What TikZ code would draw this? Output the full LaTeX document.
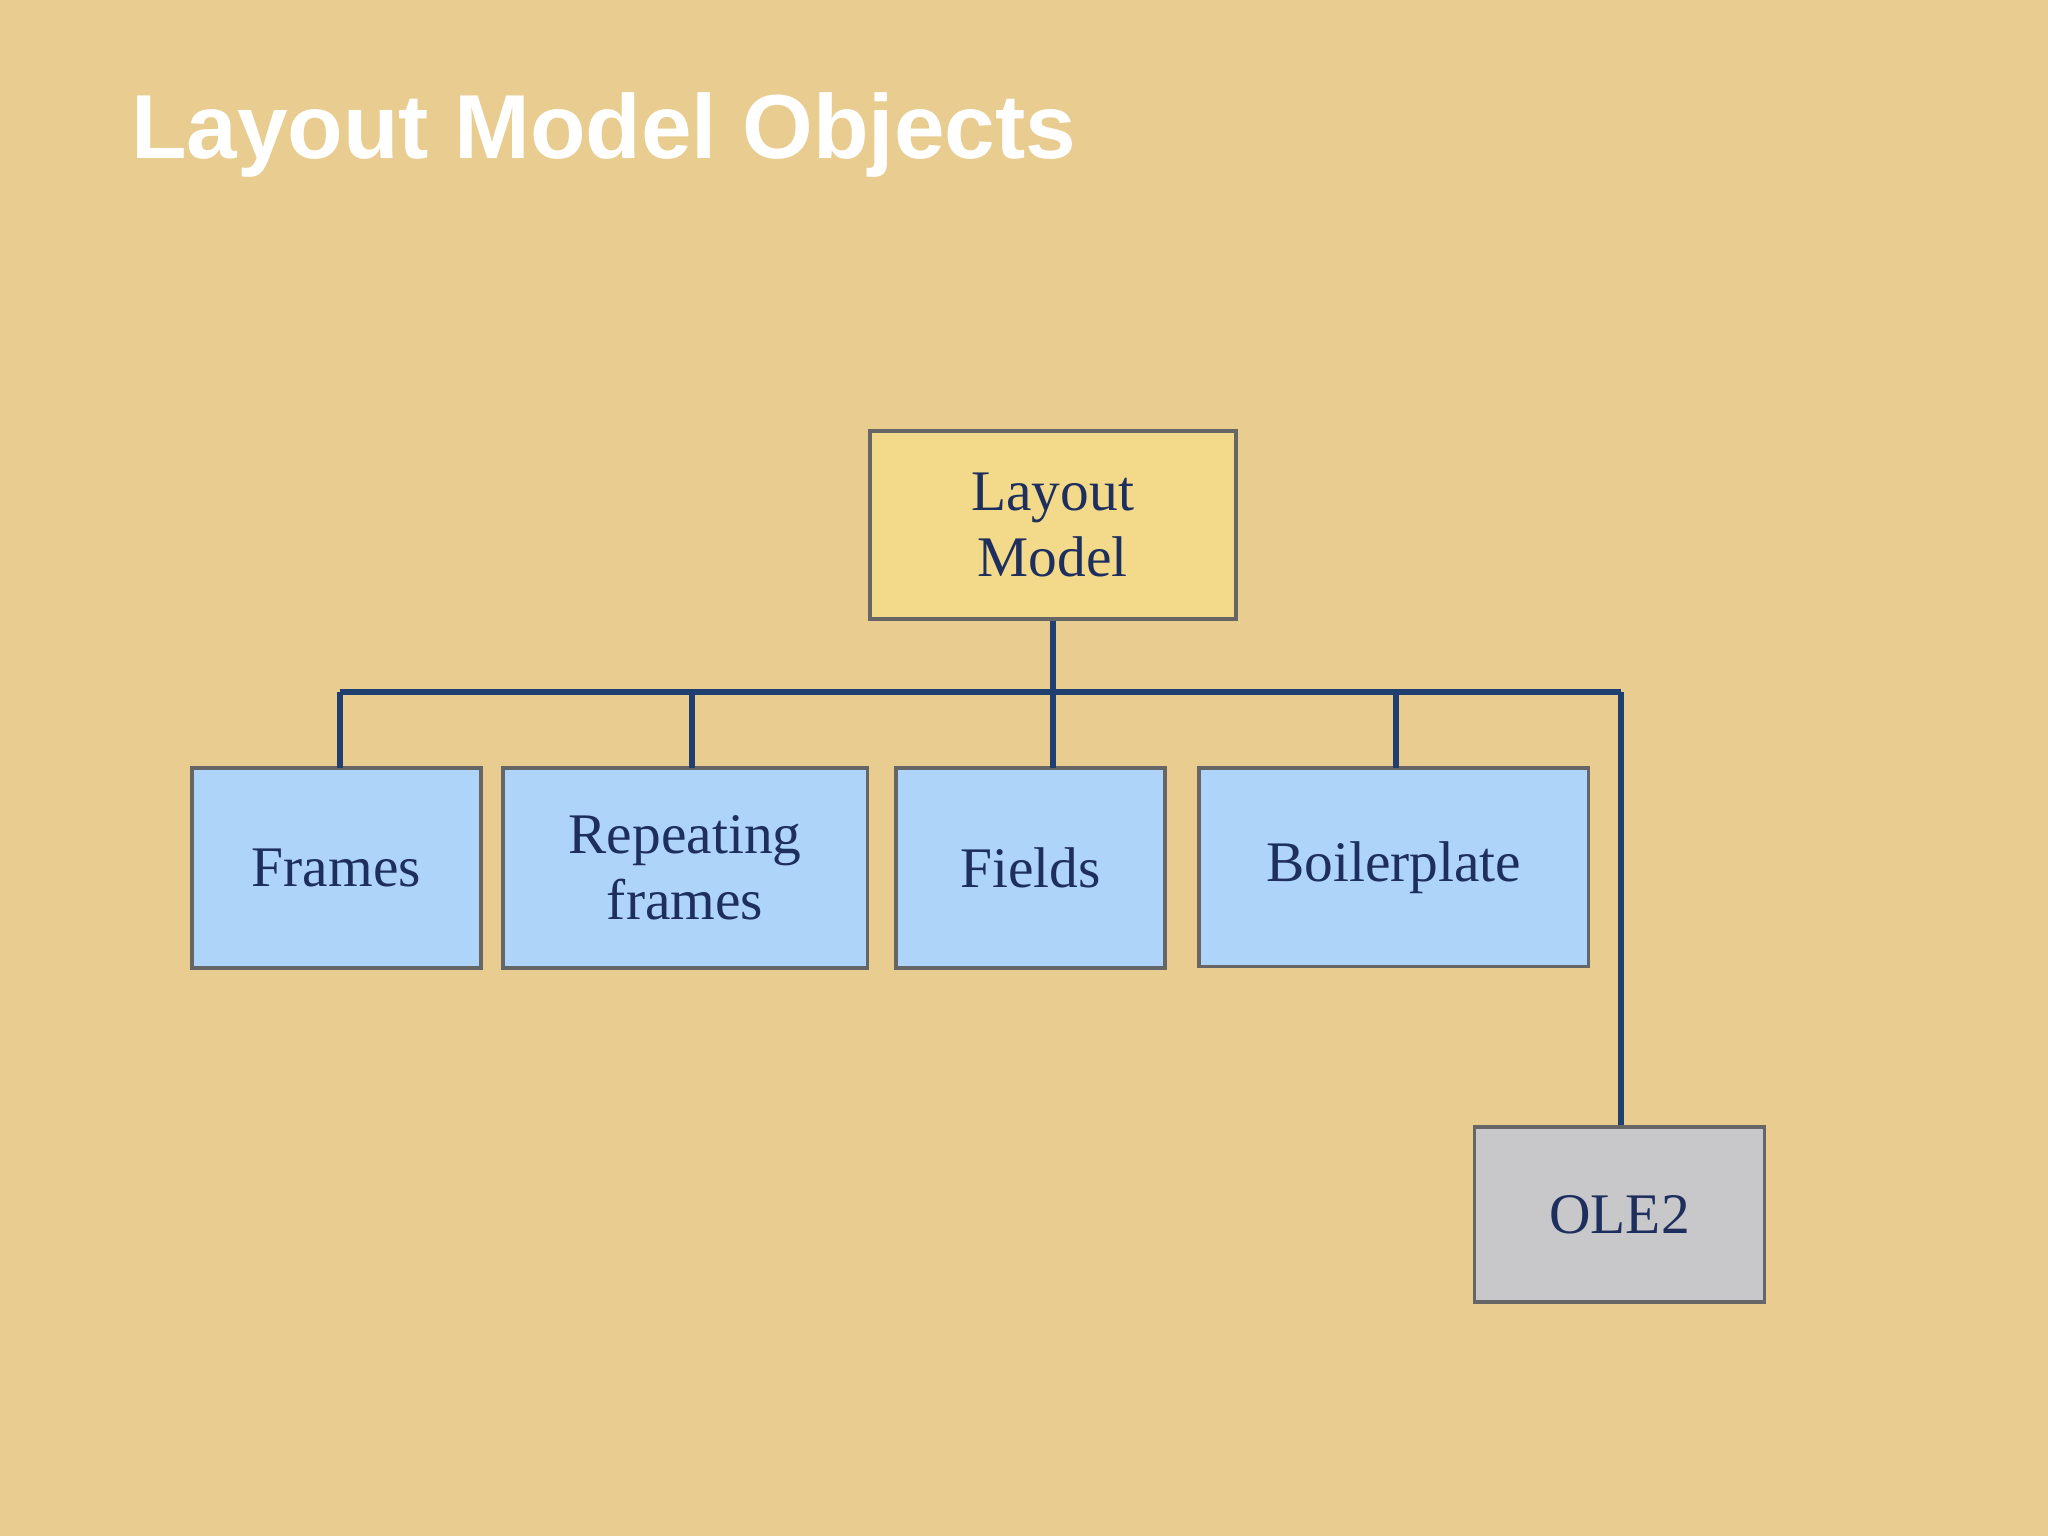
\documentclass[tikz,border=0pt]{standalone}
\usepackage{fontspec}
\setmainfont{Liberation Serif}
\newfontfamily\titlefont{Liberation Sans}
\begin{document}
\begin{tikzpicture}[x=0.01cm,y=-0.01cm,
  box/.style={draw=gray!80!black, line width=0.8pt, align=center, inner sep=0pt,
    font=\fontsize{12.5pt}{15pt}\selectfont, text=textblue},
  conn/.style={draw=lineblue, line width=1.3pt}]
\definecolor{bg}{HTML}{E9CC8F}
\definecolor{textblue}{HTML}{1E2F5E}
\definecolor{lineblue}{HTML}{1F3F70}
\definecolor{yel}{HTML}{F3DA8A}
\definecolor{lblue}{HTML}{AED4FA}
\definecolor{gry}{HTML}{C8C8CA}
\fill[bg] (0,0) rectangle (1568,1176);
\useasboundingbox (0,0) rectangle (1568,1176);
\node[anchor=west, text=white, font=\titlefont\bfseries\fontsize{19.8pt}{23pt}\selectfont] (title) at (88,103) {Layout Model Objects};
\node[box, fill=yel, minimum width=2.8cm, minimum height=1.44cm] (lm) at (806,402) {\raisebox{-0.1cm}{\shortstack{Layout\\Model}}};
\node[box, fill=lblue, minimum width=2.21cm, minimum height=1.53cm] (fr) at (257.5,664.5) {\raisebox{-0.05cm}{Frames}};
\node[box, fill=lblue, minimum width=2.79cm, minimum height=1.53cm] (rf) at (524.5,664.5) {\raisebox{-0.05cm}{\shortstack{Repeating\\frames}}};
\node[box, fill=lblue, minimum width=2.06cm, minimum height=1.53cm] (fi) at (789,664.5) {\raisebox{-0.05cm}{Fields}};
\node[box, fill=lblue, minimum width=2.98cm, minimum height=1.52cm] (bp) at (1067,664) {\raisebox{-0.07cm}{Boilerplate}};
\node[box, fill=gry, minimum width=2.22cm, minimum height=1.34cm] (ole) at (1240,930) {\raisebox{-0.04cm}{OLE2}};
\coordinate (bl) at (260,530);
\coordinate (br) at (1241,530);
\draw[conn] (lm.south) -- (lm.south |- bl);
\draw[conn] (bl) -- (br);
\draw[conn] (bl) -- (260,588);
\draw[conn] (530,530) -- (530,588);
\draw[conn] (806,530) -- (806,588);
\draw[conn] (1069,530) -- (1069,588);
\draw[conn] (br) -- (ole.north -| br);
\end{tikzpicture}
\end{document}
